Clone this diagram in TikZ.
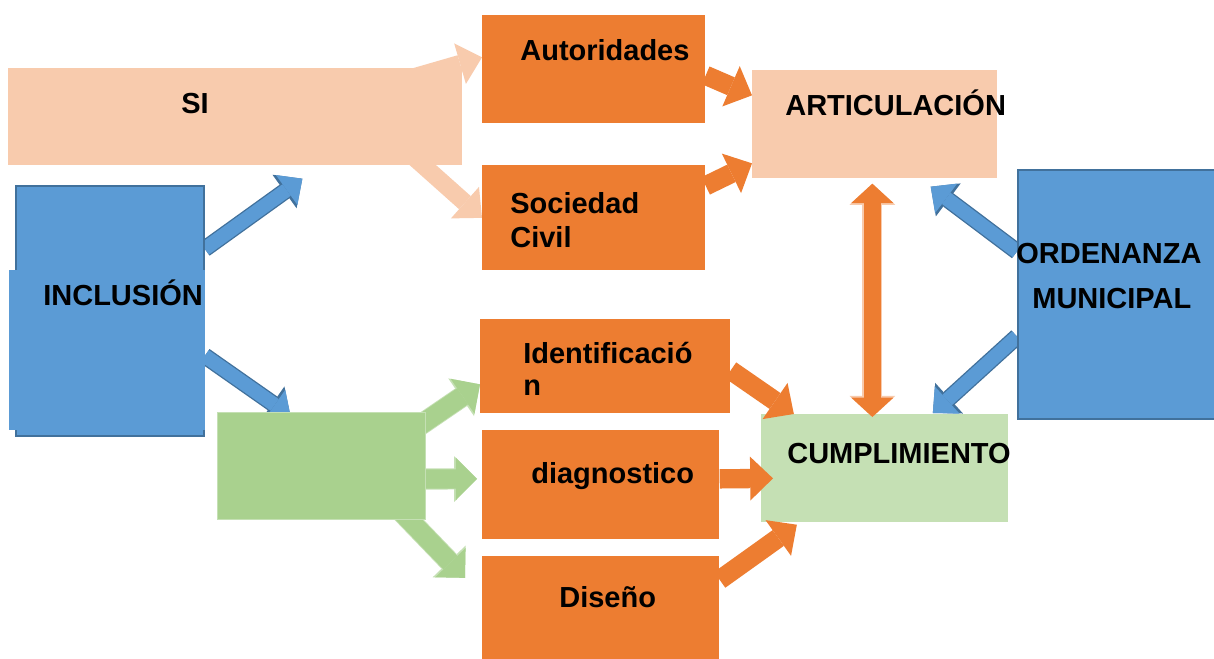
\documentclass[tikz,border=0pt]{standalone}
\usepackage{fontspec}
\setmainfont{Liberation Sans}
\usetikzlibrary{arrows.meta,positioning}

\definecolor{naranja}{HTML}{ED7D31}
\definecolor{durazno}{HTML}{F8CBAD}
\definecolor{azul}{HTML}{5B9BD5}
\definecolor{azulborde}{HTML}{41719C}
\definecolor{verde}{HTML}{A9D18E}
\definecolor{verdeclaro}{HTML}{C5E0B4}

\newlength\pixlen
\setlength\pixlen{0.02cm}
\pgfdeclarelayer{fondo}
\pgfsetlayers{fondo,main}

\tikzset{
  caja/.style={rectangle, fill=#1, inner sep=0pt, anchor=north west},
  texto/.style={anchor=base west, inner sep=0pt, font=\fontsize{16.5}{19}\selectfont\bfseries},
  fnaranja/.style={draw=naranja, line width=11pt, -{Triangle[length=13pt,width=25pt,line width=0pt]}},
  fdurazno/.style={draw=durazno, line width=10pt, -{Triangle[length=13pt,width=24pt,line width=0pt]}},
  fverde/.style={draw=verde, line width=11pt, -{Triangle[length=12pt,width=24pt,line width=0pt]},
    preaction={draw=verdeclaro, line width=12pt, -{Triangle[length=13pt,width=26pt,line width=0pt]}}},
  fazul/.style={draw=azul, line width=8pt, -{Triangle[length=11pt,width=21pt,line width=0pt]},
    preaction={draw=azulborde, line width=9.5pt, -{Triangle[length=12.5pt,width=23.5pt,line width=0pt]}}},
  fdoble/.style={draw=naranja, line width=10pt, {Triangle[length=11pt,width=24pt,line width=0pt]}-{Triangle[length=11pt,width=24pt,line width=0pt]},
    preaction={draw=durazno, line width=11.5pt, {Triangle[length=12pt,width=26pt,line width=0pt]}-{Triangle[length=12pt,width=26pt,line width=0pt]}}}
}

\begin{document}
\begin{tikzpicture}[x=0.02cm,y=-0.02cm]
  \begin{pgfonlayer}{fondo}
    \fill[white] (0,0) rectangle (1214,659);
  \end{pgfonlayer}
  \useasboundingbox (0,0) rectangle (1214,659);

  % cajas
  \node[caja=durazno, minimum width=454*\pixlen, minimum height=97*\pixlen] (si) at (8,68) {};
  \node[caja=naranja, minimum width=223*\pixlen, minimum height=108*\pixlen] (aut) at (482,15) {};
  \node[caja=naranja, minimum width=223*\pixlen, minimum height=105*\pixlen] (soc) at (482,165) {};
  \node[caja=durazno, minimum width=245*\pixlen, minimum height=108*\pixlen] (art) at (752,70) {};
  \node[caja=azul, draw=azulborde, line width=1pt, minimum width=188*\pixlen, minimum height=250*\pixlen] (inc) at (15,185) {};
  \node[caja=azul, minimum width=196*\pixlen, minimum height=160*\pixlen] (incb) at (9,270) {};
  \node[caja=azul, draw=azulborde, line width=1.2pt, minimum width=199*\pixlen, minimum height=249*\pixlen] (ord) at (1017,169) {};
  \node[caja=verde, draw=verdeclaro, line width=0.6pt, minimum width=208*\pixlen, minimum height=107*\pixlen] (grn) at (217,412) {};
  \node[caja=naranja, minimum width=250*\pixlen, minimum height=94*\pixlen] (ide) at (480,319) {};
  \node[caja=naranja, minimum width=237*\pixlen, minimum height=109*\pixlen] (dia) at (482,430) {};
  \node[caja=naranja, minimum width=237*\pixlen, minimum height=103*\pixlen] (dis) at (482,556) {};
  \node[caja=verdeclaro, minimum width=247*\pixlen, minimum height=108*\pixlen] (cum) at (761,414) {};

  % textos
  \node[texto] (siT) at (181,113) {SI};
  \node[texto] (autT) at (520,60) {Autoridades};
  \node[texto] (socT) at (510,213) {Sociedad};
  \node[texto] (socT2) at (510,247) {Civil};
  \node[texto] (artT) at (785,115) {ARTICULACIÓN};
  \node[texto] (incT) at (43,305) {INCLUSIÓN};
  \node[texto] (ordT) at (1016,263) {ORDENANZA};
  \node[texto] (ordT2) at (1032,308) {MUNICIPAL};
  \node[texto] (ideT) at (523,363) {Identificació};
  \node[texto] (ideT2) at (523,395) {n};
  \node[texto] (diaT) at (531,483) {diagnostico};
  \node[texto] (disT) at (559,607) {Diseño};
  \node[texto] (cumT) at (787,463) {CUMPLIMIENTO};

  % flechas de fondo
  \begin{pgfonlayer}{fondo}
    \draw[fdurazno] ([shift={(-62,-36)}]si.east) -- ([shift={(0,-12)}]aut.west);
    \draw[fdurazno] ([shift={(-57,33)}]si.east) -- (soc.west);
    \draw[fazul] ([shift={(0,-62)}]inc.east) -- ([shift={(67,13)}]si.south);
    \draw[fazul] ([shift={(0,45)}]inc.east) -- ([shift={(-31,4)}]grn.north);
    \draw[fazul] ([shift={(0,-43)}]ord.west) -- ([shift={(-67,8)}]art.south east);
    \draw[fazul] ([shift={(0,42)}]ord.west) -- ([shift={(48,-1)}]cum.north);
    \draw[fverde] ([shift={(-10,-38)}]grn.east) -- ([shift={(0,18)}]ide.west);
    \draw[fverde] ([shift={(0,13)}]grn.east) -- ([shift={(-5,-6)}]dia.west);
    \draw[fverde] ([shift={(-35,-19)}]grn.south east) -- ([shift={(-17,-30)}]dis.west);
  \end{pgfonlayer}

  % flechas naranjas
  \draw[fnaranja] ([shift={(0,6)}]aut.east) -- ([shift={(0,-29)}]art.west);
  \draw[fnaranja] ([shift={(0,-32)}]soc.east) -- ([shift={(0,39)}]art.west);
  \draw[fnaranja] ([shift={(0,4)}]ide.east) -- ([shift={(-91,0)}]cum.north);
  \draw[fnaranja] ([shift={(0,-6)}]dia.east) -- ([shift={(12,10)}]cum.west);
  \draw[fnaranja] ([shift={(0,-28)}]dis.east) -- ([shift={(-88,2)}]cum.south);
  \draw[fdoble] ([shift={(-2.5,5)}]art.south) -- ([shift={(-12.5,3)}]cum.north);
\end{tikzpicture}
\end{document}
